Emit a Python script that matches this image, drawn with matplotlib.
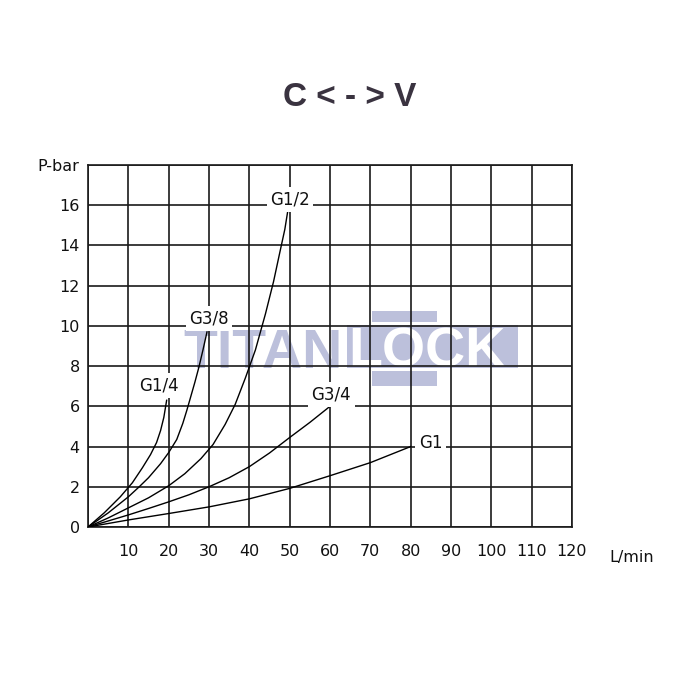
import matplotlib
matplotlib.use("Agg")
import matplotlib.pyplot as plt
from matplotlib.patches import Rectangle

# ---- data ----
g14_x = [0, 4, 8, 11, 13.5, 15.5, 17, 18, 18.8, 19.5]
g14_y = [0, 0.7, 1.5, 2.2, 2.95, 3.6, 4.2, 4.8, 5.45, 6.3]

g38_x = [0, 5, 10, 12.7, 15, 18, 20, 22, 23.5, 24.5, 25.5, 26.5, 27.5, 28.5, 29.5]
g38_y = [0, 0.7, 1.5, 2.0, 2.45, 3.15, 3.7, 4.35, 5.15, 5.8, 6.5, 7.2, 7.95, 8.8, 9.7]

g12_x = [0, 5, 10, 15, 20, 24, 28, 31, 34, 36.5, 39, 41.5, 44, 46, 47.5, 48.8, 49.6]
g12_y = [0, 0.45, 0.95, 1.45, 2.05, 2.65, 3.4, 4.1, 5.1, 6.1, 7.4, 8.8, 10.6, 12.2, 13.6, 14.8, 15.8]

g34_x = [0, 5, 10, 15, 20, 25, 30, 35, 40, 45, 50, 55, 60]
g34_y = [0, 0.3, 0.6, 0.92, 1.25, 1.6, 2.0, 2.45, 3.0, 3.68, 4.45, 5.2, 6.0]

g1_x = [0, 10, 20, 30, 40, 50, 60, 70, 80]
g1_y = [0, 0.35, 0.67, 1.0, 1.4, 1.92, 2.55, 3.2, 4.0]

series_names = ["G1/4", "G3/8", "G1/2", "G3/4", "G1"]
label_pos = [(17.6, 7.05), (30.0, 10.35), (50.1, 16.3), (60.3, 6.6), (84.9, 4.2)]

x_ticks = [0, 10, 20, 30, 40, 50, 60, 70, 80, 90, 100, 110, 120]
x_labels = ["", "10", "20", "30", "40", "50", "60", "70", "80", "90", "100", "110", "120"]
y_ticks = [0, 2, 4, 6, 8, 10, 12, 14, 16, 18]
y_labels = ["0", "2", "4", "6", "8", "10", "12", "14", "16", "P-bar"]

title = "C < - > V"
x_unit = "L/min"
watermark_a = "TITAN"
watermark_b = "LOCK"

# ---- figure ----
W, H = 700, 700
fig = plt.figure(figsize=(7, 7), dpi=100)
ax = fig.add_axes([88 / W, 1 - 527 / H, (572 - 88) / W, (527 - 165) / H])
ax.set_xlim(0, 120)
ax.set_ylim(0, 18)

ax.set_xticks(x_ticks)
ax.set_xticklabels(x_labels)
ax.set_yticks(y_ticks)
ax.set_yticklabels(y_labels)
ax.tick_params(length=0, labelsize=11.5, colors="#111111")
ax.tick_params(axis="x", pad=12)
ax.tick_params(axis="y", pad=6)
ax.set_axisbelow(False)
ax.grid(True, color="#1a1a1a", linewidth=1.2, zorder=2.5)
for s in ax.spines.values():
    s.set_color("#1a1a1a")
    s.set_linewidth(1.2)

# watermark (below grid lines), placed in figure pixels
wm = "#bcc0db"
def px_rect(x0, y0, x1, y1):
    r = Rectangle((x0 / W, 1 - y1 / H), (x1 - x0) / W, (y1 - y0) / H,
                  transform=fig.transFigure, facecolor=wm, edgecolor="none",
                  clip_on=False, zorder=1)
    ax.add_patch(r)
px_rect(347, 325, 518, 368)
px_rect(372, 311, 437, 322)
px_rect(372, 371, 437, 386)
ax.text(183 / W, 1 - 368 / H, watermark_a, transform=fig.transFigure,
        fontsize=40, fontweight="bold", family="Liberation Sans", color=wm,
        ha="left", va="baseline", zorder=1)
ax.text(348 / W, 1 - 366 / H, watermark_b, transform=fig.transFigure,
        fontsize=40, fontweight="bold", family="Liberation Sans", color="white",
        ha="left", va="baseline", zorder=1.5)

# curves
for xs, ys in [(g14_x, g14_y), (g38_x, g38_y), (g12_x, g12_y), (g34_x, g34_y), (g1_x, g1_y)]:
    ax.plot(xs, ys, color="black", linewidth=1.0, zorder=3)

for name, (lx, ly) in zip(series_names, label_pos):
    ax.text(lx, ly, name, fontsize=12, color="#111111", ha="center", va="center",
            zorder=4, bbox=dict(facecolor="white", edgecolor="none", pad=2.5))

ax.annotate(x_unit, xy=(134.7, 0), xycoords="data", xytext=(0, -22),
            textcoords="offset points", ha="center", va="center",
            fontsize=11.5, color="#111111", annotation_clip=False)

fig.text(350 / W, 1 - 97 / H, title, fontsize=24, fontweight="bold",
         family="Liberation Sans", color="#3a3340", ha="center", va="center")

fig.savefig("out.png", dpi=100, facecolor="white")
